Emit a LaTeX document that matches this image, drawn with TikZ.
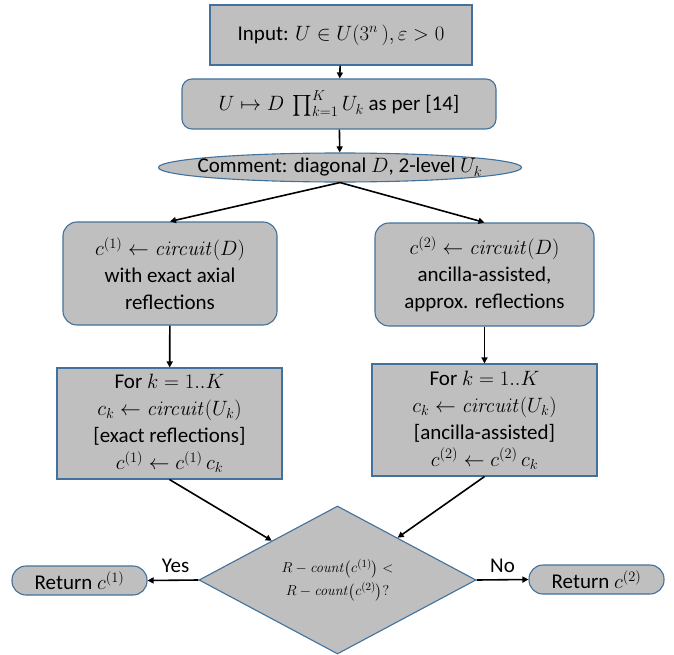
\documentclass[tikz,border=0pt]{standalone}
\usepackage{exscale}
\usepackage[no-math]{fontspec}
\setmainfont{Carlito}
\usetikzlibrary{shapes.geometric,arrows.meta}

\definecolor{boxgray}{RGB}{191,191,191}
\definecolor{boxline}{RGB}{65,113,156}

\begin{document}
\begin{tikzpicture}[x=1pt, y=-1pt,
		box/.style={draw=boxline, line width=1.1pt, fill=boxgray, align=center, inner sep=0pt,
			font=\fontsize{21}{27}\selectfont},
		roundbox/.style={box, rounded corners=14pt},
		flow/.style={->, >={Triangle[length=6pt, width=6pt]}, line width=1.6pt}]
	\useasboundingbox (0, 0) rectangle (674, 655);
		\node [box, minimum width=262, minimum height=60] (inp) at (341, 35) {Input: $U \in U(3^n\,), \varepsilon > 0$};
		\node [roundbox, rounded corners=10pt, minimum width=314, minimum height=50] (dec) at (339, 104) {$U \mapsto D\ \prod_{k=1}^{K} U_k$ as per [14]};
		\node [box, ellipse, inner xsep=-50pt, inner ysep=-6pt, minimum width=363, minimum height=29] (cmt) at (340, 167.5) {Comment: diagonal $D$, 2-level $U_k$};
		\node [roundbox, minimum width=214, minimum height=103] (exa) at (170, 273.5) {$c^{(1)} \leftarrow \mathit{circuit}(D)$\\with exact axial\\reflections};
		\node [roundbox, minimum width=219, minimum height=103] (anc) at (484.5, 274.5) {$c^{(2)} \leftarrow \mathit{circuit}(D)$\\ancilla-assisted,\\approx. reflections};
		\node [box, minimum width=225, minimum height=111] (lpa) at (169.5, 423.5) {For $k = 1..K$\\$c_k \leftarrow \mathit{circuit}(U_k)$\\{[exact reflections]}\\$c^{(1)} \leftarrow c^{(1)}\,c_k$};
		\node [box, minimum width=225, minimum height=112] (lpb) at (484.5, 420) {For $k = 1..K$\\$c_k \leftarrow \mathit{circuit}(U_k)$\\{[ancilla-assisted]}\\$c^{(2)} \leftarrow c^{(2)}\,c_k$};
		\node [box, diamond, aspect=1.87, minimum width=277, minimum height=148, font=\fontsize{15}{23}\selectfont] (cmp) at (337.5, 580) {$R - \mathit{count}\bigl(c^{(1)}\bigr) <$\\$R - \mathit{count}\bigl(c^{(2)}\bigr)?$};
		\node [roundbox, minimum width=135, minimum height=29] (ret1) at (79.5, 580.5) {Return $c^{(1)}$};
		\node [roundbox, minimum width=135, minimum height=29] (ret2) at (596.5, 579.5) {Return $c^{(2)}$};
		\draw [flow] (inp) -- (dec);
		\draw [flow] (dec) -- (cmt);
		\draw [flow] (cmt.south) -- (exa.north);
		\draw [flow] (cmt.south) -- (anc.north);
		\draw [flow] (exa) -- (lpa);
		\draw [flow] (anc) -- (lpb);
		\draw [flow] (lpa.south) -- (cmp);
		\draw [flow] (lpb.south) -- (cmp);
		\draw [flow] (cmp.west) -- node [above=3pt, pos=0.45, font=\fontsize{21}{27}\selectfont] {Yes} (ret1.east);
		\draw [flow] (cmp.east) -- node [above=3pt, font=\fontsize{21}{27}\selectfont] {No} (ret2.west);
	\end{tikzpicture}
\end{document}
